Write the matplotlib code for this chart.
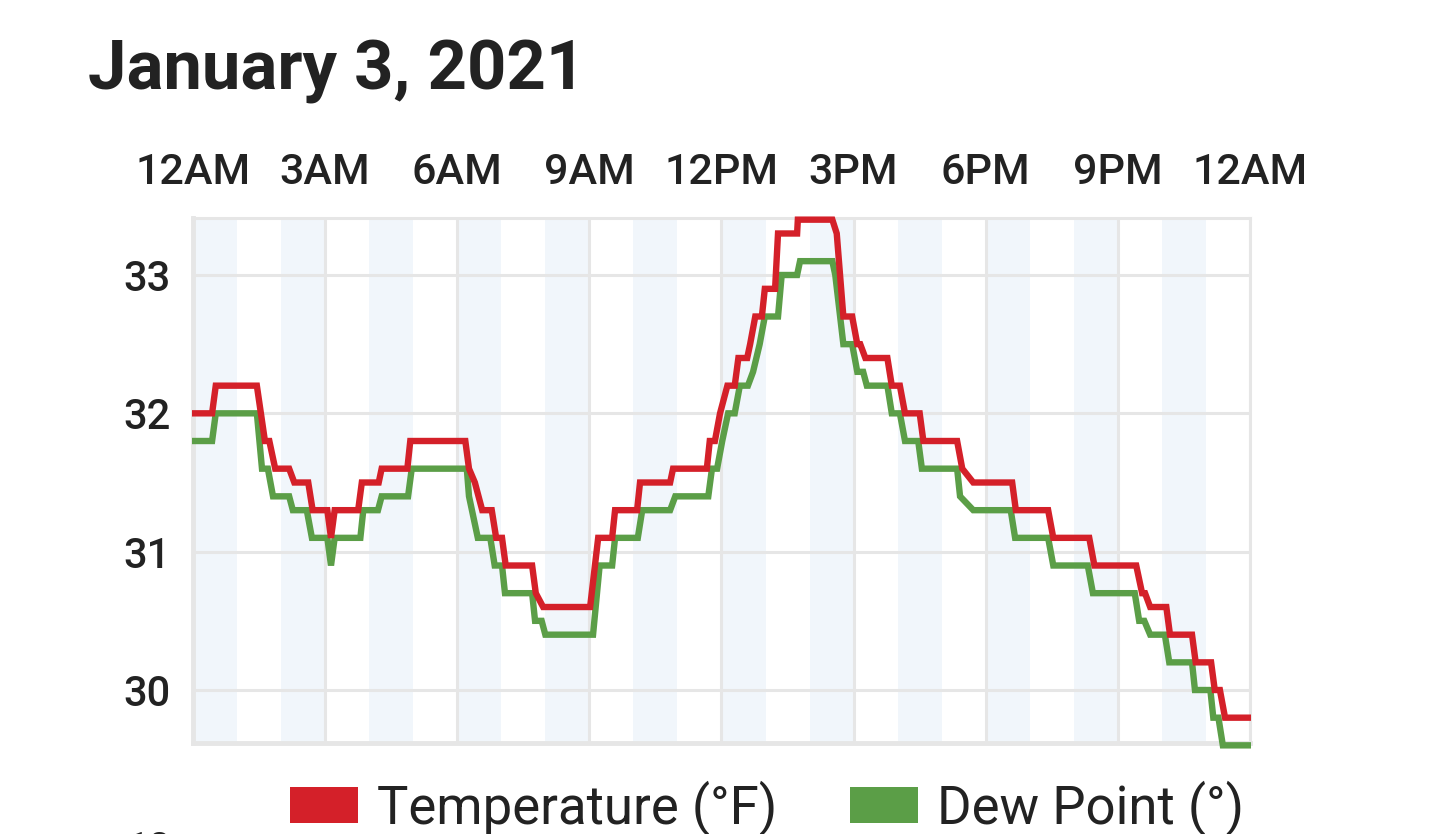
import numpy as np
import matplotlib
matplotlib.use("Agg")
import matplotlib.pyplot as plt
from matplotlib.patches import Patch

plt.rcParams['font.family'] = ['Roboto', 'DejaVu Sans']

# readings, minutes after midnight
temp_min = [3, 26, 31, 87, 98, 104, 112, 131, 138, 157, 163, 183, 188, 193, 225, 230,
            253, 257, 292, 296, 371, 376, 384, 394, 407, 413, 421, 426, 462, 467, 477,
            541, 552, 571, 575, 605, 609, 650, 654, 700, 704, 711, 718, 728, 738, 743,
            755, 759, 766, 775, 779, 793, 797, 823, 824, 871, 877, 886, 898, 905, 909,
            916, 946, 952, 963, 970, 990, 995, 1041, 1048, 1063, 1116, 1121, 1165, 1172,
            1221, 1228, 1285, 1293, 1297, 1304, 1326, 1331, 1361, 1366, 1387, 1392,
            1399, 1406, 1437]
temp_f = [32.0, 32.0, 32.2, 32.2, 31.8, 31.8, 31.6, 31.6, 31.5, 31.5, 31.3, 31.3, 31.1,
          31.3, 31.3, 31.5, 31.5, 31.6, 31.6, 31.8, 31.8, 31.6, 31.5, 31.3, 31.3, 31.1,
          31.1, 30.9, 30.9, 30.7, 30.6, 30.6, 31.1, 31.1, 31.3, 31.3, 31.5, 31.5, 31.6,
          31.6, 31.8, 31.8, 32.0, 32.2, 32.2, 32.4, 32.4, 32.5, 32.7, 32.7, 32.9, 32.9,
          33.3, 33.3, 33.4, 33.4, 33.3, 32.7, 32.7, 32.5, 32.5, 32.4, 32.4, 32.2, 32.2,
          32.0, 32.0, 31.8, 31.8, 31.6, 31.5, 31.5, 31.3, 31.3, 31.1, 31.1, 30.9, 30.9,
          30.7, 30.7, 30.6, 30.6, 30.4, 30.4, 30.2, 30.2, 30.0, 30.0, 29.8, 29.8]

dew_min = [3, 26, 31, 87, 94, 102, 109, 131, 136, 155, 162, 183, 188, 193, 228, 232,
           252, 257, 293, 298, 373, 376, 388, 405, 411, 421, 425, 462, 466, 475, 480,
           545, 554, 571, 575, 606, 612, 650, 657, 702, 707, 714, 721, 729, 738, 745,
           756, 763, 772, 779, 797, 802, 823, 827, 871, 875, 886, 898, 905, 913, 918,
           946, 952, 963, 970, 988, 993, 1041, 1045, 1063, 1114, 1120, 1165, 1172, 1219,
           1226, 1283, 1289, 1296, 1304, 1324, 1330, 1361, 1365, 1386, 1390, 1397,
           1403, 1437]
dew_f = [31.8, 31.8, 32.0, 32.0, 31.6, 31.6, 31.4, 31.4, 31.3, 31.3, 31.1, 31.1, 30.9,
         31.1, 31.1, 31.3, 31.3, 31.4, 31.4, 31.6, 31.6, 31.4, 31.1, 31.1, 30.9, 30.9,
         30.7, 30.7, 30.5, 30.5, 30.4, 30.4, 30.9, 30.9, 31.1, 31.1, 31.3, 31.3, 31.4,
         31.4, 31.6, 31.6, 31.8, 32.0, 32.0, 32.2, 32.2, 32.3, 32.5, 32.7, 32.7, 33.0,
         33.0, 33.1, 33.1, 33.0, 32.5, 32.5, 32.3, 32.3, 32.2, 32.2, 32.0, 32.0, 31.8,
         31.8, 31.6, 31.6, 31.4, 31.3, 31.3, 31.1, 31.1, 30.9, 30.9, 30.7, 30.7, 30.5,
         30.5, 30.4, 30.4, 30.2, 30.2, 30.0, 30.0, 29.8, 29.8, 29.6, 29.6]

tick_hours = [0, 3, 6, 9, 12, 15, 18, 21, 24]
tick_labels = ['12AM', '3AM', '6AM', '9AM', '12PM', '3PM', '6PM', '9PM', '12AM']
y_ticks = [30, 31, 32, 33]

red = '#d42029'
green = '#5b9e47'
grid_c = '#e6e6e6'
txt = '#222222'

fig = plt.figure(figsize=(14.4, 8.34), dpi=100)
ax = fig.add_axes([193/1440, 91/834, 1057/1440, 525/834])

# alternating hour shading
for h in range(0, 24, 2):
    ax.axvspan(h, h + 1, color='#f1f6fb', lw=0, zorder=0)

ax.plot(np.array(dew_min)/60, dew_f, color=green, lw=4.6, zorder=3, clip_on=False,
        solid_joinstyle='miter')
ax.plot(np.array(temp_min)/60, temp_f, color=red, lw=4.6, zorder=4, clip_on=False,
        solid_joinstyle='miter')

ax.set_xlim(0, 24)
ax.set_ylim(29.617, 33.412)
ax.set_xticks(tick_hours)
ax.set_xticklabels(tick_labels)
ax.set_yticks(y_ticks)
ax.xaxis.tick_top()
ax.tick_params(axis='x', length=0, pad=18, labelsize=31, labelcolor=txt)
ax.tick_params(axis='y', length=0, pad=16, labelsize=30, labelcolor=txt)
for lab in ax.get_xticklabels() + ax.get_yticklabels():
    lab.set_fontweight('medium')
ax.grid(True, color=grid_c, lw=2.2, zorder=1)
ax.set_axisbelow(True)
for s in ['top', 'right']:
    ax.spines[s].set_color(grid_c)
    ax.spines[s].set_linewidth(2.2)
for s in ['left', 'bottom']:
    ax.spines[s].set_color(grid_c)
    ax.spines[s].set_linewidth(3.5)

fig.text(88/1440, 1 - 90/834, 'January 3, 2021', fontsize=49.5, fontweight='bold',
         color=txt, ha='left', va='baseline')

handles = [Patch(facecolor=red, edgecolor='none', label='Temperature (°F)'),
           Patch(facecolor=green, edgecolor='none', label='Dew Point (°)')]
fig.legend(handles=handles, loc='center', bbox_to_anchor=(767/1440, 1 - 808/834),
           ncol=2, frameon=False, fontsize=38, handlelength=1.29, handleheight=0.68,
           handletextpad=0.36, columnspacing=1.36, borderpad=0, labelcolor=txt)

# top of the next chart's first label, cut by the page edge
fig.text(150/1440, 1 - 831/834, '12', fontsize=28, color=txt, ha='center', va='top')

fig.savefig('out.png', dpi=100)
